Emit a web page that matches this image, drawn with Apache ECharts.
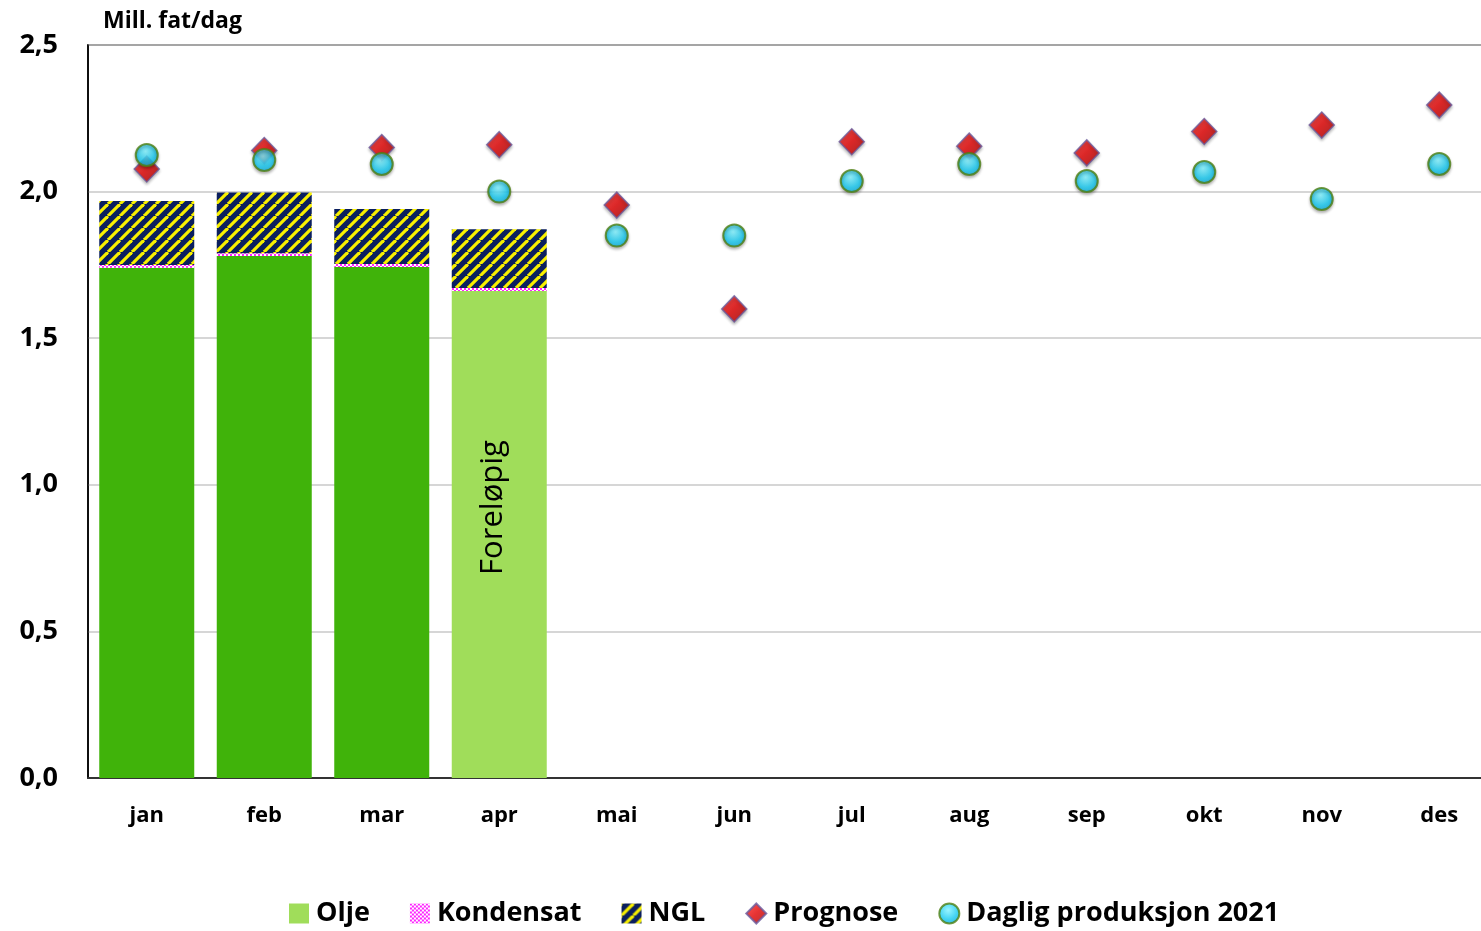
<!DOCTYPE html>
<html><head><meta charset="utf-8">
<script src="https://cdn.jsdelivr.net/npm/echarts@6/dist/echarts.min.js"></script>
<style>html,body{margin:0;padding:0;background:#fff;overflow:hidden}#c{width:1498px;height:931px}</style>
</head><body><div id="c"></div>
<script>
const months = ['jan','feb','mar','apr','mai','jun','jul','aug','sep','okt','nov','des'];
const olje = [1.74, 1.78, 1.743, 1.661];
const kondensat = [0.01, 0.01, 0.01, 0.01];
const ngl = [0.218, 0.207, 0.188, 0.201];
const prognose = [2.077, 2.14, 2.15, 2.16, 1.954, 1.60, 2.17, 2.155, 2.132, 2.205, 2.227, 2.295];
const daglig = [2.125, 2.108, 2.094, 2.0, 1.85, 1.85, 2.036, 2.094, 2.036, 2.067, 1.975, 2.094];
const yTicks = ['0,0','0,5','1,0','1,5','2,0','2,5'];

const FONT = '"Open Sans", sans-serif';

function stripePattern(){
  const s = 12, c = document.createElement('canvas');
  c.width = s; c.height = s;
  const x = c.getContext('2d');
  x.fillStyle = '#0b1f5e'; x.fillRect(0,0,s,s);
  x.strokeStyle = '#f8f000'; x.lineWidth = 3.2;
  for (const k of [-s, 0, s]) { x.beginPath(); x.moveTo(k, s); x.lineTo(k + s, 0); x.stroke(); }
  return {image: c, repeat: 'repeat'};
}
function checkPattern(){
  const c = document.createElement('canvas');
  c.width = 4; c.height = 4;
  const x = c.getContext('2d');
  x.fillStyle = '#ffffff'; x.fillRect(0,0,4,4);
  x.fillStyle = '#ff22ff'; x.fillRect(0,0,2,2); x.fillRect(2,2,2,2);
  return {image: c, repeat: 'repeat'};
}

const dark = '#40b30a', light = '#a0dd5a';
const oljeData = olje.map((v,i) => i === 3 ? {
  value: v, itemStyle: {color: light},
  label: {show: true, position: 'inside', rotate: 90, formatter: 'Foreløpig',
          fontFamily: FONT, fontSize: 31, color: '#000', offset: [27, -6]}
} : {value: v, itemStyle: {color: dark}});

const chart = echarts.init(document.getElementById('c'));
chart.setOption({
  animation: false,
  backgroundColor: '#fff',
  grid: {left: 88, top: 45, right: 0, bottom: 153, show: true, borderColor: '#000', borderWidth: 1.5, backgroundColor: 'transparent'},
  xAxis: {
    type: 'category', data: months,
    axisLine: {lineStyle: {color: '#333', width: 2}},
    axisTick: {show: false},
    axisLabel: {fontFamily: FONT, fontWeight: 'bold', fontSize: 22, color: '#000', margin: 27}
  },
  yAxis: {
    type: 'value', min: 0, max: 2.5, interval: 0.5,
    name: 'Mill. fat/dag', nameLocation: 'end', nameGap: 12,
    nameTextStyle: {fontFamily: FONT, fontWeight: 'bold', fontSize: 23, color: '#000', align: 'left', padding: [0,0,0,15]},
    axisLine: {show: true, lineStyle: {color: '#000', width: 1.5}},
    axisTick: {show: false},
    splitLine: {lineStyle: {color: '#c8c8c8', width: 1.5}},
    axisLabel: {fontFamily: FONT, fontWeight: 'bold', fontSize: 27, color: '#000', margin: 30,
      formatter: (v) => yTicks[Math.round(v / 0.5)]}
  },
  legend: {
    left: 284, top: 895, itemWidth: 20, itemHeight: 20, itemGap: 40,
    textStyle: {fontFamily: FONT, fontWeight: 'bold', fontSize: 27, color: '#000', padding: [0,0,0,2]},
    data: [
      {name: 'Olje', icon: 'rect', itemStyle: {color: light}},
      {name: 'Kondensat', icon: 'rect'},
      {name: 'NGL', icon: 'rect'},
      {name: 'Prognose', icon: 'diamond'},
      {name: 'Daglig produksjon 2021', icon: 'circle'}
    ]
  },
  series: [
    {name: 'Olje', type: 'bar', stack: 'p', barWidth: 95, data: oljeData, itemStyle: {color: dark}},
    {name: 'Kondensat', type: 'bar', stack: 'p', barWidth: 95, data: kondensat, itemStyle: {color: checkPattern()}},
    {name: 'NGL', type: 'bar', stack: 'p', barWidth: 95, data: ngl, itemStyle: {color: stripePattern()}},
    {name: 'Prognose', type: 'scatter', data: prognose, symbol: 'diamond', symbolSize: [25, 26], z: 3,
      itemStyle: {
        color: new echarts.graphic.LinearGradient(0,0,1,1,[{offset:0,color:'#ff3030'},{offset:0.5,color:'#e00000'},{offset:1,color:'#a00000'}]),
        borderColor: '#6a5a9c', borderWidth: 1.5,
        shadowBlur: 3, shadowOffsetY: 2, shadowColor: 'rgba(0,0,0,0.3)'
      }},
    {name: 'Daglig produksjon 2021', type: 'scatter', data: daglig, symbol: 'circle', symbolSize: 22, z: 4,
      itemStyle: {
        color: new echarts.graphic.RadialGradient(0.45,0.35,0.7,[{offset:0,color:'#7ff2ff'},{offset:0.6,color:'#12c8f0'},{offset:1,color:'#0aa0d0'}]),
        borderColor: '#4f7f12', borderWidth: 2,
        shadowBlur: 3, shadowOffsetY: 2, shadowColor: 'rgba(0,0,0,0.3)'
      }}
  ]
});
</script></body></html>
